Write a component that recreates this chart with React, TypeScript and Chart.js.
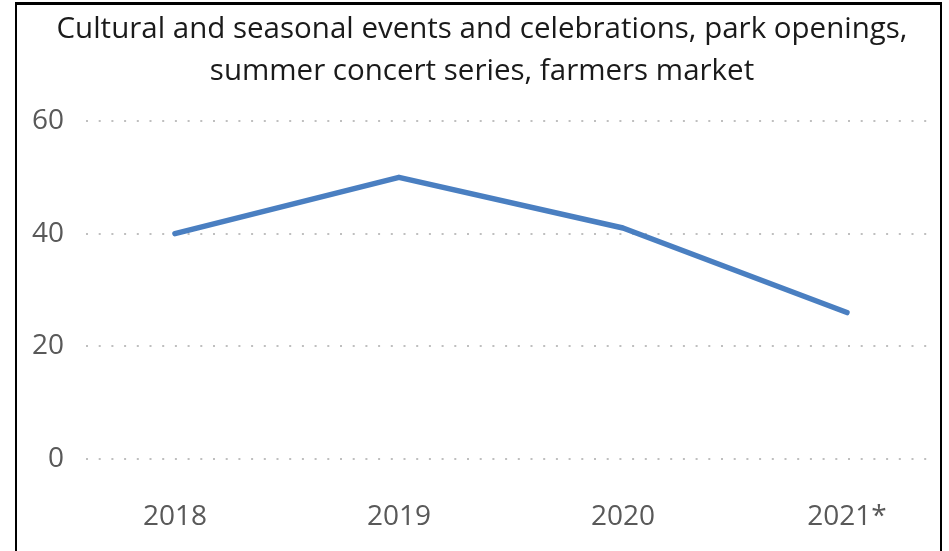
import React, { useEffect, useRef } from "react";
import { Chart, registerables } from "chart.js";

Chart.register(...registerables);

const categories: string[] = ["2018", "2019", "2020", "2021*"];
const values: number[] = [40, 50, 41, 26];
const yTicks: number[] = [0, 20, 40, 60];
const titleLines: string[] = [
  "Cultural and seasonal events and celebrations, park openings,",
  "summer concert series, farmers market",
];

const FONT = "'Open Sans', 'Noto Sans', sans-serif";

const framePlugin = {
  id: "frame",
  afterDraw(chart: any) {
    const c = chart.ctx;
    c.save();
    c.fillStyle = "#000";
    c.fillRect(15, 2, 927, 3); // top
    c.fillRect(15, 2, 2, 560); // left
    c.fillRect(940, 2, 2, 560); // right
    c.restore();
  },
};

export default function App() {
  const ref = useRef<HTMLCanvasElement | null>(null);

  useEffect(() => {
    document.body.style.margin = "0";
    const ctx = ref.current!.getContext("2d")!;
    const chart = new Chart(ctx, {
      type: "line",
      data: {
        datasets: [
          {
            data: values.map((v, i) => ({ x: i, y: v })),
            borderColor: "#4a7fc1",
            borderWidth: 5.5,
            borderCapStyle: "round",
            borderJoinStyle: "round",
            pointRadius: 0,
            fill: false,
            tension: 0,
          },
        ],
      },
      plugins: [framePlugin],
      options: {
        animation: false,
        responsive: false,
        layout: { padding: { left: 31, right: 16, top: 0, bottom: 0 } },
        plugins: {
          legend: { display: false },
          tooltip: { enabled: false },
          title: {
            display: true,
            text: titleLines,
            color: "#1a1a1a",
            font: { family: FONT, size: 29.5, weight: "normal", lineHeight: 1.424 },
            padding: { top: 9, bottom: 28 },
          },
        },
        scales: {
          x: {
            type: "linear",
            min: -0.397,
            max: 3.384,
            afterBuildTicks: (scale: any) => {
              scale.ticks = categories.map((_, i) => ({ value: i }));
            },
            afterFit: (scale: any) => {
              scale.height = 92;
            },
            ticks: {
              callback: (v: any) => categories[Math.round(Number(v))] ?? "",
              color: "#595959",
              font: { family: FONT, size: 28 },
              padding: 41,
              maxRotation: 0,
              autoSkip: false,
            },
            grid: { display: false, drawTicks: false },
            border: { display: false },
          },
          y: {
            min: 0,
            max: 60,
            afterBuildTicks: (scale: any) => {
              scale.ticks = yTicks.map((v) => ({ value: v }));
            },
            afterFit: (scale: any) => {
              scale.width = 55;
            },
            ticks: {
              color: "#595959",
              font: { family: FONT, size: 28 },
              padding: 22,
            },
            grid: {
              color: "#bfbfbf",
              lineWidth: 2,
              drawTicks: false,
            },
            border: { display: false, dash: [2, 10.7] },
          },
        },
      },
    });
    return () => chart.destroy();
  }, []);

  return (
    <div style={{ position: "relative", width: 949, height: 551, overflow: "hidden", background: "#fff" }}>
      <canvas ref={ref} width={949} height={551} style={{ position: "absolute", left: 0, top: 0 }} />
    </div>
  );
}
